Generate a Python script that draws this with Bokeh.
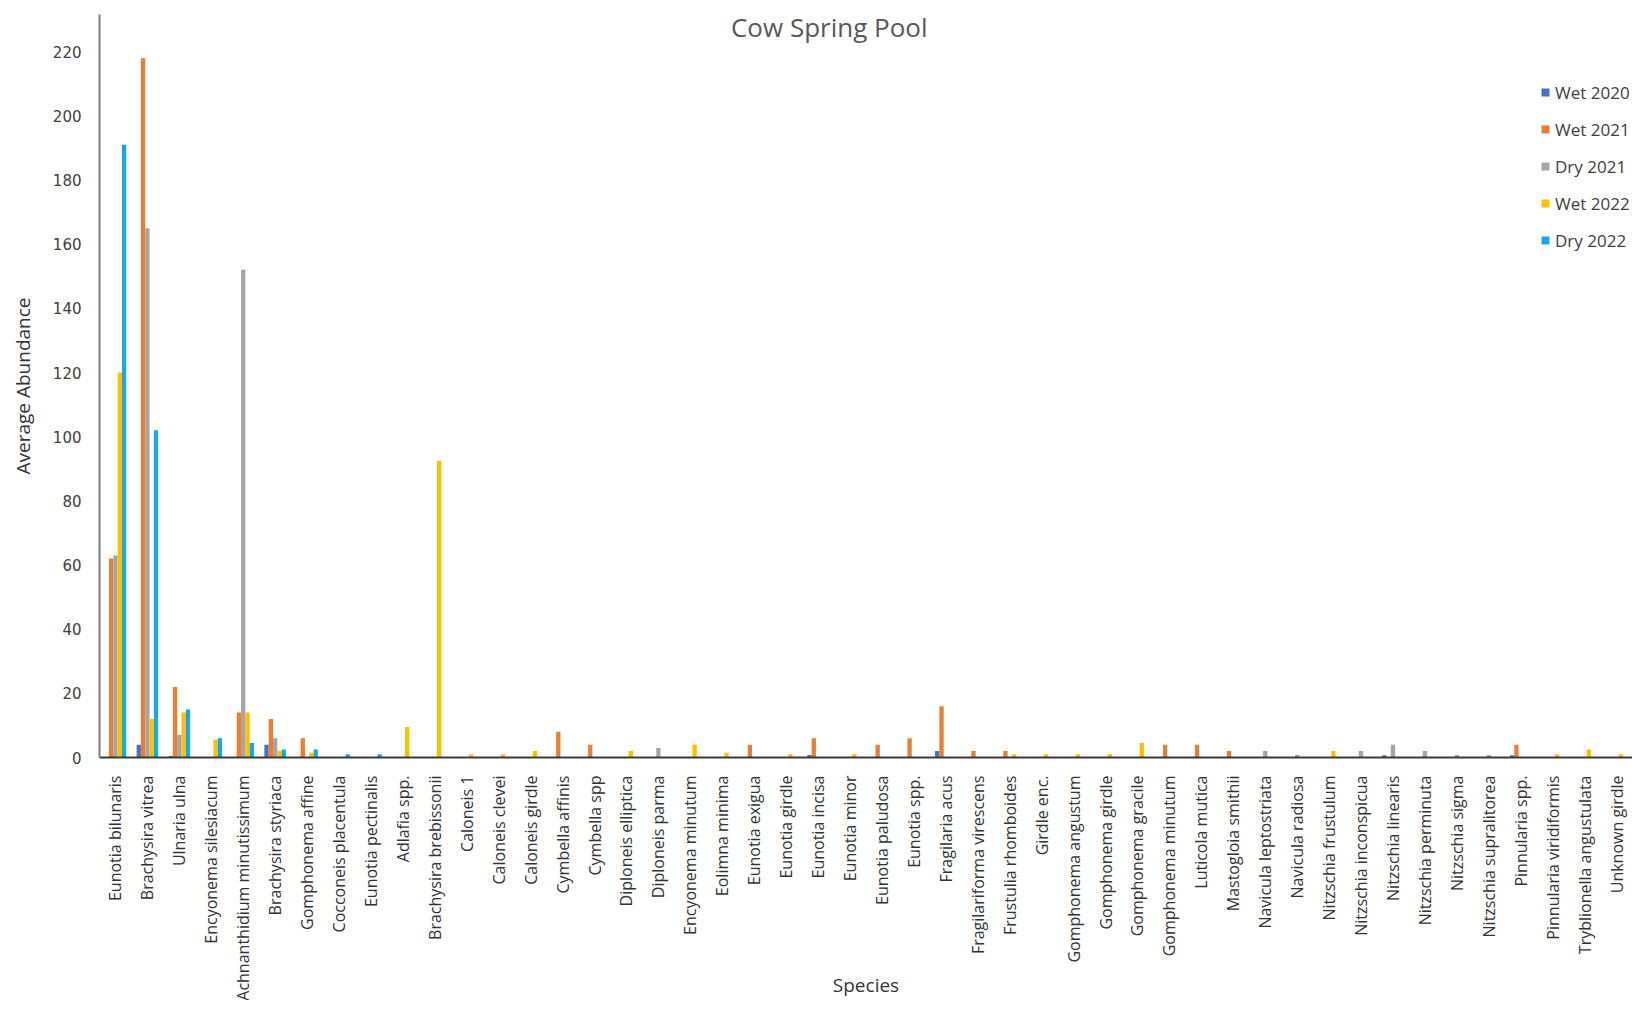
import math
from bokeh.plotting import figure
from bokeh.models import ColumnDataSource, FactorRange, Range1d, Label, SingleIntervalTicker
from bokeh.transform import dodge
from bokeh.embed import file_html
from bokeh.resources import INLINE

species = [
    "Eunotia bilunaris", "Brachysira vitrea", "Ulnaria ulna", "Encyonema silesiacum",
    "Achnanthidium minutissimum", "Brachysira styriaca", "Gomphonema affine",
    "Cocconeis placentula", "Eunotia pectinalis", "Adlafia spp.", "Brachysira brebissonii",
    "Caloneis 1", "Caloneis clevei", "Caloneis girdle", "Cymbella affinis", "Cymbella spp",
    "Diploneis elliptica", "Diploneis parma", "Encyonema minutum", "Eolimna minima",
    "Eunotia exigua", "Eunotia girdle", "Eunotia incisa", "Eunotia minor", "Eunotia paludosa",
    "Eunotia spp.", "Fragilaria acus", "Fragilariforma virescens", "Frustulia rhomboides",
    "Girdle enc.", "Gomphonema angustum", "Gomphonema girdle", "Gomphonema gracile",
    "Gomphonema minutum", "Luticola mutica", "Mastogloia smithii", "Navicula leptostriata",
    "Navicula radiosa", "Nitzschia frustulum", "Nitzschia inconspicua", "Nitzschia linearis",
    "Nitzschia perminuta", "Nitzschia sigma", "Nitzschia supralitorea", "Pinnularia spp.",
    "Pinnularia viridiformis", "Tryblionella angustulata", "Unknown girdle",
]

wet_2020 = [0, 4, 0.5, 0, 0, 4, 0, 0, 0, 0, 0,
            0, 0, 0, 0, 0, 0, 0, 0, 0, 0, 0, 0.8, 0, 0, 0, 2, 0, 0, 0, 0, 0, 0, 0,
            0, 0, 0, 0, 0, 0, 0.7, 0, 0, 0, 0.7, 0, 0, 0]
wet_2021 = [62, 218, 22, 0, 14, 12, 6, 0, 0, 0, 0,
            0, 0, 0, 8, 4, 0, 0, 0, 0, 4, 0, 6, 0, 4, 6, 16, 2, 2, 0, 0, 0, 0, 4,
            4, 2, 0, 0, 0, 0, 0, 0, 0, 0, 4, 0, 0, 0]
dry_2021 = [63, 165, 7, 0, 152, 6, 0, 0, 0, 0, 0,
            0, 0, 0, 0, 0, 0, 3, 0, 0, 0, 0, 0, 0, 0, 0, 0, 0, 0, 0, 0, 0, 0, 0,
            0, 0, 2, 0.8, 0, 2, 4, 2, 0.8, 0.8, 0, 0, 0, 0]
wet_2022 = [120, 12, 14, 5.5, 14, 2, 1.5, 0, 0, 9.5, 92.5,
            1, 1, 2, 0, 0, 2, 0, 4, 1.5, 0, 1, 0, 1, 0, 0, 0, 0, 1, 1, 1, 1, 4.5, 0,
            0, 0, 0, 0, 2, 0, 0, 0, 0, 0, 0, 1, 2.5, 1]
dry_2022 = [191, 102, 15, 6, 4.5, 2.5, 2.5, 1, 1, 0, 0,
            0, 0, 0, 0, 0, 0, 0, 0, 0, 0, 0, 0, 0, 0, 0, 0, 0, 0, 0, 0, 0, 0, 0,
            0, 0, 0, 0, 0, 0, 0, 0, 0, 0, 0, 0, 0, 0]

series_names = ["Wet 2020", "Wet 2021", "Dry 2021", "Wet 2022", "Dry 2022"]
series_cols = ["wet_2020", "wet_2021", "dry_2021", "wet_2022", "dry_2022"]
colors = ["#4472C4", "#ED7D31", "#A5A5A5", "#FFC000", "#18A7E8"]

y_ticks_interval = 20

source = ColumnDataSource(dict(
    species=species, wet_2020=wet_2020, wet_2021=wet_2021, dry_2021=dry_2021,
    wet_2022=wet_2022, dry_2022=dry_2022,
))

FONT = "Open Sans"

p = figure(
    x_range=FactorRange(*species, range_padding=0),
    y_range=Range1d(0, 231.6),
    width=1632, height=1000,
    output_backend="svg", toolbar_location=None,
    min_border_left=99, min_border_right=0, min_border_top=14, min_border_bottom=0,
)

bw = 0.135
offsets = [-2 * bw, -bw, 0, bw, 2 * bw]
for name, col, c, off in zip(series_names, series_cols, colors, offsets):
    p.vbar(x=dodge("species", off, range=p.x_range), top=col, width=bw,
           source=source, fill_color=c, line_color=None, legend_label=name)

p.outline_line_color = None
p.xgrid.grid_line_color = None
p.ygrid.grid_line_color = None
p.background_fill_color = "white"
p.border_fill_color = "white"

# y axis
p.yaxis.ticker = SingleIntervalTicker(interval=y_ticks_interval)
p.yaxis.axis_line_color = "#7F7F7F"
p.yaxis.axis_line_width = 2
p.yaxis.major_tick_line_color = None
p.yaxis.minor_tick_line_color = None
p.yaxis.major_label_standoff = 12
p.yaxis.major_label_text_font = "DejaVu Sans"
p.yaxis.major_label_text_font_size = "15px"
p.yaxis.major_label_text_color = "#404040"
p.yaxis.axis_label = "Average Abundance"
p.yaxis.axis_label_text_font = FONT
p.yaxis.axis_label_text_font_size = "19px"
p.yaxis.axis_label_text_font_style = "normal"
p.yaxis.axis_label_text_color = "#333333"
p.yaxis.axis_label_standoff = 14

# x axis
p.xaxis.axis_line_color = "#3A3A3A"
p.xaxis.axis_line_width = 2
p.xaxis.major_tick_line_color = None
p.xaxis.minor_tick_line_color = None
p.xaxis.major_label_orientation = math.pi / 2
p.xaxis.major_label_standoff = 12
p.xaxis.major_label_text_font = FONT
p.xaxis.major_label_text_font_size = "16px"
p.xaxis.major_label_text_color = "#333333"
p.xaxis.axis_label = "Species"
p.xaxis.axis_label_text_font = FONT
p.xaxis.axis_label_text_font_size = "19px"
p.xaxis.axis_label_text_font_style = "normal"
p.xaxis.axis_label_text_color = "#333333"
p.xaxis.axis_label_standoff = -32

# title inside plot area
p.add_layout(Label(x=22.85, y=227.8, text="Cow Spring Pool", text_align="center",
                   text_baseline="middle", text_font=FONT, text_font_size="26px",
                   text_color="#595959"))

# legend
lg = p.legend[0]
lg.location = (1441, 505)
lg.border_line_color = None
lg.background_fill_alpha = 0
lg.padding = 0
lg.margin = 0
lg.spacing = 13
lg.glyph_width = 10
lg.glyph_height = 10
lg.label_height = 24
lg.label_standoff = 5
lg.label_text_font = FONT
lg.label_text_font_size = "17px"
lg.label_text_color = "#404040"

open("out.html", "w").write(file_html(p, INLINE))
